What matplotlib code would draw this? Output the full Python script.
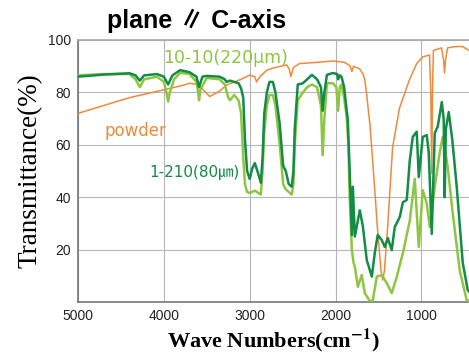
import numpy as np
import matplotlib
matplotlib.use("Agg")
import matplotlib.pyplot as plt

# powder spectrum
wn_powder = [5000, 4700, 4400, 4000, 3800, 3700, 3600, 3465, 3350, 3270, 3100, 3000, 2940,
             2920, 2880, 2800, 2700, 2570, 2540, 2520, 2490, 2420, 2200, 2030, 1900, 1870,
             1830, 1810, 1790, 1720, 1680, 1660, 1640, 1600, 1565, 1510, 1470, 1450, 1430,
             1395, 1335, 1255, 1140, 1055, 985, 905, 890, 880, 870, 860, 765, 740, 730,
             720, 695, 600, 520, 445]
t_powder = [72, 75, 78, 81, 82.5, 83.5, 83, 78.4, 80.5, 82.8, 85, 86.6, 86,
            84, 86, 88.5, 89.5, 90.5, 89, 86, 89.5, 91, 91.5, 92, 91.5, 91,
            90, 88, 90, 89, 87, 85, 80, 68, 53, 27.5, 12, 8.4, 12,
            27.5, 59, 74, 84.7, 91, 93.5, 94.3, 80, 49, 80, 96, 97, 92, 87.4,
            92, 97, 97.5, 97.5, 96]

# 1-210 (80um)
wn_1210 = [5000, 4700, 4400, 4330, 4280, 4230, 4080, 4000, 3950, 3900, 3810, 3700, 3620,
           3590, 3550, 3500, 3350, 3290, 3270, 3230, 3130, 3100, 3075, 3055, 3030, 3000,
           2970, 2940, 2910, 2870, 2850, 2830, 2800, 2770, 2730, 2700, 2650, 2610, 2580,
           2545, 2510, 2490, 2475, 2440, 2380, 2330, 2275, 2215, 2170, 2150, 2130, 2100,
           2030, 1980, 1970, 1950, 1930, 1900, 1857, 1835, 1810, 1798, 1775, 1717, 1682,
           1636, 1577, 1543, 1508, 1461, 1426, 1391, 1345, 1310, 1251, 1216, 1170, 1135,
           1100, 1054, 1030, 984, 937, 914, 879, 844, 809, 762, 740, 728, 715, 681, 640,
           588, 518, 460, 445]
t_1210 = [86, 86.8, 87.3, 86.5, 84.5, 86.5, 87, 86, 83, 86.5, 88.5, 87.7, 86,
          82, 86, 86.3, 86, 85, 84, 84.5, 83.5, 81.5, 78, 62, 50, 47,
          51, 53, 50, 45.5, 55, 72, 80, 84, 84, 80, 68, 52, 50,
          45, 44, 50, 66, 83, 83.5, 85, 86.7, 85, 82, 73, 80, 86.7,
          87.4, 87, 85, 86.5, 86, 82, 69.5, 50, 25.6, 44, 25, 35, 29,
          16, 9.7, 18.6, 25.6, 23.6, 21, 24.4, 19.8, 28.6, 32.5, 38, 39, 54,
          63, 65, 47.7, 63, 63.7, 57, 26, 64.5, 67, 76.3, 70, 40, 66, 72.5, 62,
          44, 15, 4.6, 4]

# 10-10 (220um)
wn_1010 = [5000, 4700, 4400, 4330, 4280, 4230, 4080, 4000, 3970, 3950, 3930, 3880, 3810,
           3700, 3620, 3600, 3590, 3575, 3500, 3350, 3290, 3250, 3230, 3180, 3130, 3100,
           3075, 3055, 3030, 3000, 2940, 2870, 2850, 2830, 2800, 2770, 2730, 2700, 2650,
           2610, 2580, 2545, 2510, 2490, 2475, 2440, 2380, 2330, 2275, 2215, 2170, 2150,
           2130, 2100, 2030, 1990, 1970, 1950, 1930, 1900, 1870, 1850, 1835, 1810, 1790,
           1775, 1740, 1694, 1659, 1600, 1566, 1519, 1461, 1403, 1345, 1286, 1216, 1135,
           1077, 1030, 984, 937, 902, 844, 786, 751, 728, 693, 635, 553, 472, 445]
t_1010 = [86.5, 87, 87, 85, 82, 85, 86, 84, 80, 76.5, 80, 85, 87.5,
          87, 84, 80, 77, 81, 85.5, 85, 83, 78, 77, 79, 77, 72,
          55, 45, 42, 41.6, 42.5, 41, 50, 65, 75, 79, 79, 75, 60,
          45, 43, 42, 41, 45, 60, 77, 80, 82, 83, 82, 75, 56,
          70, 83.5, 83.5, 82, 73, 82, 83, 78, 70.6, 60, 40, 20, 15,
          13.5, 5.8, 10.3, 3.4, 0.3, 0.7, 9.7, 10.3, 7.2, 3.4, 9.7, 18.6, 31,
          47, 21, 42.7, 37.6, 28.6, 44, 57, 63, 59, 51.5, 34, 12, 0.7, 0.5]

c_powder = "#ef8a3a"
c_dark = "#138c45"
c_light = "#8dc640"

plt.rcParams['mathtext.fontset'] = 'stix'

fig = plt.figure(figsize=(4.69, 3.53), dpi=100)
ax = fig.add_axes([0.1663, 0.1445, 0.8337, 0.7422])

ax.plot(wn_powder, t_powder, color=c_powder, lw=1.1, zorder=3)
ax.plot(wn_1010, t_1010, color=c_light, lw=1.8, zorder=4)
ax.plot(wn_1210, t_1210, color=c_dark, lw=1.8, zorder=5)

ax.set_xlim(5000, 445)
ax.set_ylim(0, 100)
ax.set_xticks([5000, 4000, 3000, 2000, 1000])
ax.set_yticks([20, 40, 60, 80, 100])
ax.tick_params(length=0, labelsize=10, pad=5, colors="#222222")
for lab in ax.get_xticklabels() + ax.get_yticklabels():
    lab.set_family("Liberation Sans")
ax.grid(True, color="#b5b5b5", lw=0.8)
ax.set_axisbelow(True)
for s in ["left", "bottom"]:
    ax.spines[s].set_color("#777777")
    ax.spines[s].set_linewidth(1.2)
ax.spines["top"].set_color("#aaaaaa")
ax.spines["top"].set_linewidth(1.2)
ax.spines["right"].set_visible(False)

ax.set_ylabel("Transmittance(%)", family="Liberation Serif", fontsize=19.5, labelpad=4)
ax.set_xlabel(r"Wave Numbers(cm$^{\mathbf{-1}}$)", family="Liberation Serif",
              fontsize=16, fontweight="bold", labelpad=3)

ax.text(4010, 93, "10-10(220μm)", color=c_light, fontsize=12.5, va="center", ha="left")
ax.text(4697, 65.3, "powder", color=c_powder, fontsize=12, va="center", ha="left")
ax.text(4173, 49.6, "1-210(80㎛)", color=c_dark, fontsize=11, va="center", ha="left",
        family=["DejaVu Sans", "Noto Sans CJK JP"])

fig.text(0.42, 0.94, "plane ∥ C-axis", fontsize=18, fontweight="bold",
         ha="center", va="center", family=["Liberation Sans", "Noto Sans CJK JP"])

fig.savefig("out.png", dpi=100)
